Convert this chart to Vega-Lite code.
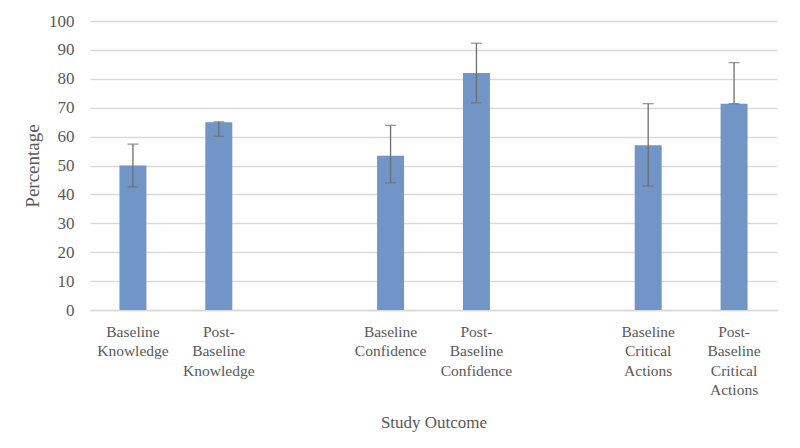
{
  "$schema": "https://vega.github.io/schema/vega-lite/v6.json",
  "width": 687,
  "height": 289,
  "autosize": "none",
  "padding": {"left": 90, "top": 21, "right": 23, "bottom": 138},
  "background": "white",
  "config": {"view": {"stroke": null}, "font": "Liberation Serif"},
  "data": {"values": [
    {"outcome": "Baseline Knowledge", "percentage": 50, "lo": 42.6, "hi": 57.4},
    {"outcome": "Post-Baseline Knowledge", "percentage": 65, "lo": 60.1, "hi": 65.1},
    {"outcome": "Baseline Confidence", "percentage": 53.4, "lo": 44.0, "hi": 63.9},
    {"outcome": "Post-Baseline Confidence", "percentage": 82, "lo": 71.7, "hi": 92.3},
    {"outcome": "Baseline Critical Actions", "percentage": 57, "lo": 42.9, "hi": 71.4},
    {"outcome": "Post-Baseline Critical Actions", "percentage": 71.4, "lo": 71.4, "hi": 85.6}
  ]},
  "resolve": {"axis": {"y": "independent"}},
  "encoding": {
    "x": {
      "field": "outcome",
      "type": "nominal",
      "sort": null,
      "scale": {
        "domain": ["Baseline Knowledge", "Post-Baseline Knowledge", "gap1", "Baseline Confidence", "Post-Baseline Confidence", "gap2", "Baseline Critical Actions", "Post-Baseline Critical Actions"],
        "paddingInner": 0.686,
        "paddingOuter": 0.343
      },
      "axis": {
        "title": "Study Outcome",
        "labelAngle": 0,
        "labelExpr": "indexof(datum.value, 'gap') == 0 ? '' : split(replace(datum.value, 'Post-', 'Post- '), ' ')",
        "labelFont": "Liberation Serif",
        "labelFontSize": 15.5,
        "labelLineHeight": 19.5,
        "labelColor": "#595959",
        "labelBaseline": "top",
        "labelPadding": 14,
        "labelOverlap": false,
        "ticks": false,
        "domainColor": "#D9D9D9",
        "domainWidth": 1.3,
        "titleFont": "Liberation Serif",
        "titleFontSize": 17,
        "titleFontWeight": "normal",
        "titleColor": "#595959",
        "titleY": 112,
        "titleBaseline": "middle"
      }
    }
  },
  "layer": [
    {
      "mark": {"type": "bar", "color": "#7295C7"},
      "encoding": {
        "y": {
          "field": "percentage",
          "type": "quantitative",
          "scale": {"domain": [0, 100]},
          "axis": {
            "title": "Percentage",
            "values": [0, 10, 20, 30, 40, 50, 60, 70, 80, 90, 100],
            "labelOverlap": false,
            "grid": true,
            "gridColor": "#D9D9D9",
            "gridWidth": 1.3,
            "domain": false,
            "ticks": false,
            "labelFont": "Liberation Serif",
            "labelFontSize": 17,
            "labelColor": "#595959",
            "labelPadding": 16,
            "titleFont": "Liberation Serif",
            "titleFontSize": 19,
            "titleFontWeight": "normal",
            "titleColor": "#595959",
            "titleX": -58,
            "titleY": 144.5,
            "titleAngle": -90,
            "titleAlign": "center",
            "titleBaseline": "middle"
          }
        }
      }
    },
    {
      "mark": {"type": "rule", "color": "#6E6E6E", "strokeWidth": 1.3},
      "encoding": {
        "y": {"field": "lo", "type": "quantitative", "axis": null},
        "y2": {"field": "hi"}
      }
    },
    {
      "mark": {"type": "tick", "color": "#6E6E6E", "thickness": 1.3, "size": 11},
      "encoding": {"y": {"field": "lo", "type": "quantitative", "axis": null}}
    },
    {
      "mark": {"type": "tick", "color": "#6E6E6E", "thickness": 1.3, "size": 11},
      "encoding": {"y": {"field": "hi", "type": "quantitative", "axis": null}}
    }
  ]
}
